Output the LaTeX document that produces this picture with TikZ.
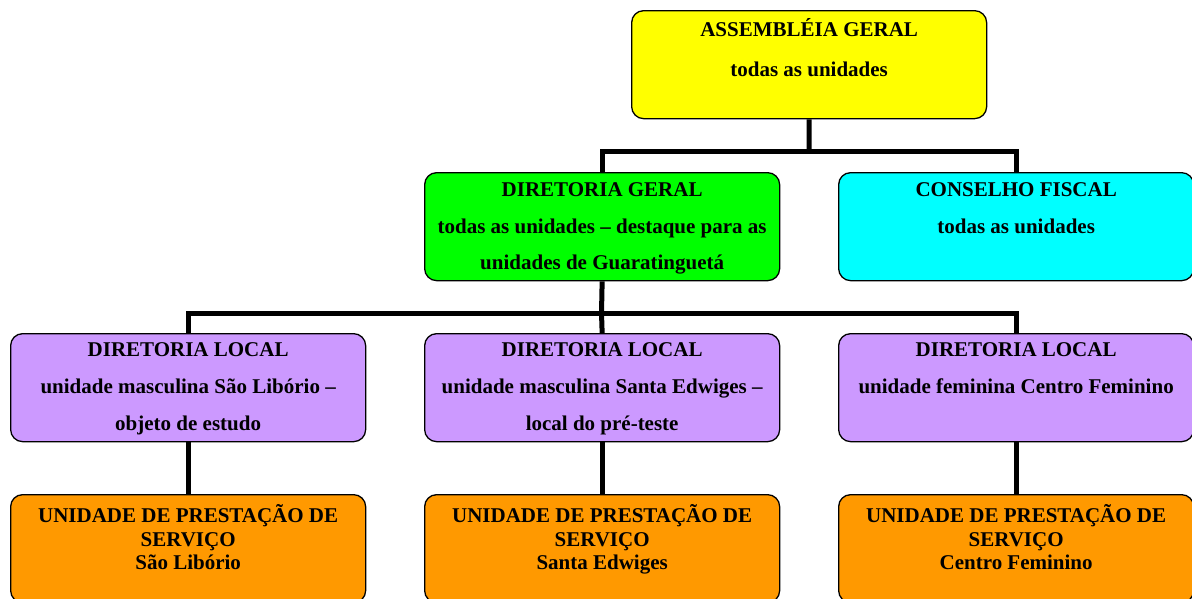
\documentclass[tikz,border=0pt]{standalone}
\usepackage{fontspec}
\setmainfont{Liberation Serif}
\usetikzlibrary{calc}
\definecolor{cYellow}{HTML}{FFFF00}
\definecolor{cGreen}{HTML}{00FF00}
\definecolor{cCyan}{HTML}{00FFFF}
\definecolor{cLilac}{HTML}{CC99FF}
\definecolor{cOrange}{HTML}{FF9900}
\tikzset{
  orgbox/.style={draw=black, line width=1.3pt, rounded corners=12pt,
    minimum width=355pt, minimum height=108pt, inner sep=0pt, anchor=north west},
  txt/.style={font=\fontsize{21}{24}\selectfont\bfseries, anchor=base, inner sep=0pt},
  conn/.style={line width=5pt, draw=black, line join=miter}
}
\begin{document}
\begin{tikzpicture}[x=1pt,y=-1pt]
\useasboundingbox (0,0) rectangle (1192,598);
\clip (0,0) rectangle (1192,598);
% boxes
\node[orgbox, fill=cYellow] (ag) at (631,10) {};
\node[orgbox, fill=cGreen]  (dg) at (424,172) {};
\node[orgbox, fill=cCyan]   (cf) at (838,172) {};
\node[orgbox, fill=cLilac]  (dl1) at (10,333) {};
\node[orgbox, fill=cLilac]  (dl2) at (424,333) {};
\node[orgbox, fill=cLilac]  (dl3) at (838,333) {};
\node[orgbox, fill=cOrange] (up1) at (10,494) {};
\node[orgbox, fill=cOrange] (up2) at (424,494) {};
\node[orgbox, fill=cOrange] (up3) at (838,494) {};
% junctions
\coordinate (j1) at (809,151);
\coordinate (j2) at (601.5,313);
% connectors
\draw[conn] (ag.south) -- (j1);
\draw[conn] (dg.north) |- (j1) -| (cf.north);
\draw[conn] (dg.south) -- (j2);
\draw[conn] (dl1.north) |- (j2) -| (dl3.north);
\draw[conn] (j2) -- (dl2.north);
\draw[conn] (dl1.south) -- (up1.north);
\draw[conn] (dl2.south) -- (up2.north);
\draw[conn] (dl3.south) -- (up3.north);
% texts
\node[txt] (ag1) at ([yshift=-26pt]ag.north) {ASSEMBLÉIA GERAL};
\node[txt] (ag2) at ([yshift=-66pt]ag.north) {todas as unidades};
\node[txt] (dg1) at ([yshift=-24pt]dg.north) {DIRETORIA GERAL};
\node[txt] (dg2) at ([yshift=-61pt]dg.north) {todas as unidades – destaque para as};
\node[txt] (dg3) at ([yshift=-97pt]dg.north) {unidades de Guaratinguetá};
\node[txt] (cf1) at ([yshift=-24pt]cf.north) {CONSELHO FISCAL};
\node[txt] (cf2) at ([yshift=-61pt]cf.north) {todas as unidades};
\node[txt] (dl1a) at ([yshift=-23pt]dl1.north) {DIRETORIA LOCAL};
\node[txt] (dl1b) at ([yshift=-60pt]dl1.north) {unidade masculina São Libório –};
\node[txt] (dl1c) at ([yshift=-97pt]dl1.north) {objeto de estudo};
\node[txt] (dl2a) at ([yshift=-23pt]dl2.north) {DIRETORIA LOCAL};
\node[txt] (dl2b) at ([yshift=-60pt]dl2.north) {unidade masculina Santa Edwiges –};
\node[txt] (dl2c) at ([yshift=-97pt]dl2.north) {local do pré-teste};
\node[txt] (dl3a) at ([yshift=-23pt]dl3.north) {DIRETORIA LOCAL};
\node[txt] (dl3b) at ([yshift=-60pt]dl3.north) {unidade feminina Centro Feminino};
\node[txt] (up1a) at ([yshift=-28pt]up1.north) {UNIDADE DE PRESTAÇÃO DE};
\node[txt] (up1b) at ([yshift=-52pt]up1.north) {SERVIÇO};
\node[txt] (up1c) at ([yshift=-75pt]up1.north) {São Libório};
\node[txt] (up2a) at ([yshift=-28pt]up2.north) {UNIDADE DE PRESTAÇÃO DE};
\node[txt] (up2b) at ([yshift=-52pt]up2.north) {SERVIÇO};
\node[txt] (up2c) at ([yshift=-75pt]up2.north) {Santa Edwiges};
\node[txt] (up3a) at ([yshift=-28pt]up3.north) {UNIDADE DE PRESTAÇÃO DE};
\node[txt] (up3b) at ([yshift=-52pt]up3.north) {SERVIÇO};
\node[txt] (up3c) at ([yshift=-75pt]up3.north) {Centro Feminino};
\end{tikzpicture}
\end{document}
